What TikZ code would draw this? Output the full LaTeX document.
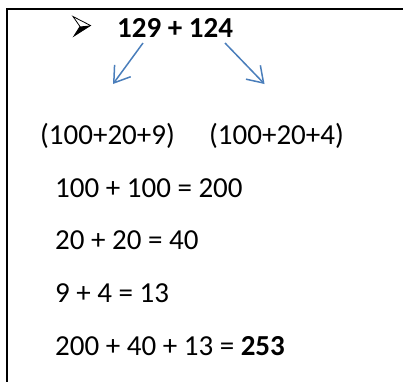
\documentclass[tikz,border=0pt]{standalone}
\usepackage{fontspec}
\setmainfont{Carlito}
\usetikzlibrary{arrows.meta}
\definecolor{arrowblue}{HTML}{4A7EBB}
\tikzset{
  txt/.style={anchor=base west, inner sep=0pt, font=\fontsize{29}{31}\selectfont},
  splitarrow/.style={draw=arrowblue, line width=1.5pt, -{Straight Barb[length=15pt,width=20pt,line width=1.5pt]}},
  frame/.style={line width=2pt, line cap=rect}
}
\begin{document}
\begin{tikzpicture}[x=1pt,y=-1pt]
\useasboundingbox (0,0) rectangle (403,381);
% frame (top and left edges)
\coordinate (fbl) at (7,385);
\coordinate (ftl) at (7,9);
\coordinate (ftr) at (406,9);
\draw[frame] (fbl) -- (ftl) -- (ftr);
% bullet arrowhead
\coordinate (btip) at (90.5,25.5);
\coordinate (btop) at (73,16.5);
\coordinate (bnotch) at (80,26.5);
\coordinate (bbot) at (74,36);
\fill[black] (btip) -- (bnotch) -- (bbot) -- cycle;
\draw[black, line width=0.8pt, line join=miter] (btip) -- (btop) -- (bnotch) -- (bbot) -- cycle;
% texts
\node[txt] (t1) at (117,37) {\textbf{129 + 124}};
\node[txt] (t2a) at (40,144) {(100+20+9)};
\node[txt] (t2b) at (209,144) {(100+20+4)};
\node[txt] (t3) at (55,197) {100 + 100 = 200};
\node[txt] (t4) at (55,249) {20 + 20 = 40};
\node[txt] (t5) at (55,302) {9 + 4 = 13};
\node[txt] (t6) at (55,355) {200 + 40 + 13 = \textbf{253}};
% arrows
\coordinate (las) at (143,43);
\coordinate (lae) at (113,84);
\coordinate (ras) at (225,43);
\coordinate (rae) at (264.5,84);
\draw[splitarrow] (las) -- (lae);
\draw[splitarrow] (ras) -- (rae);
\end{tikzpicture}
\end{document}
